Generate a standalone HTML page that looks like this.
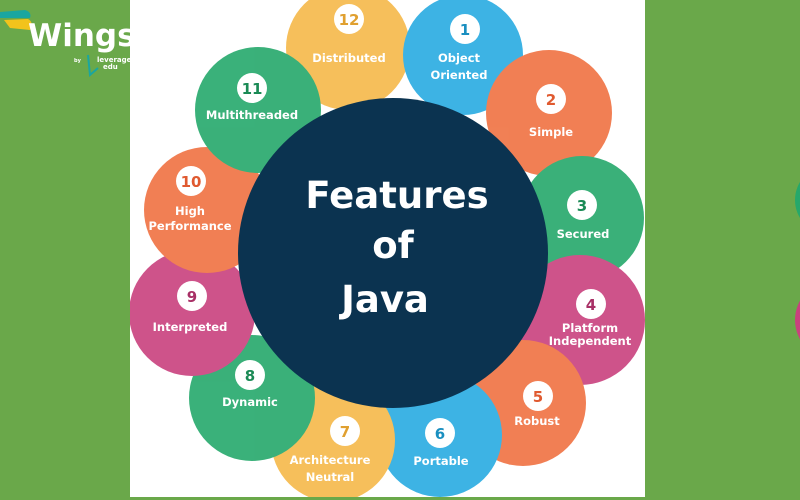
<!DOCTYPE html>
<html><head><meta charset="utf-8"><style>
html,body{margin:0;padding:0;width:800px;height:500px;overflow:hidden;background:#6aa84a}
svg{display:block}
text{font-family:"DejaVu Sans","Liberation Sans",sans-serif;font-weight:bold}
</style></head><body>
<svg width="800" height="500" viewBox="0 0 800 500">
<rect width="800" height="500" fill="#6aa84a"/>
<circle cx="830" cy="200" r="35" fill="#25a86b"/>
<circle cx="835" cy="320" r="40" fill="#c9417e"/>
<rect x="130" y="0" width="515" height="497" fill="#ffffff"/>
<clipPath id="c"><rect x="130" y="0" width="515" height="497"/></clipPath>
<g clip-path="url(#c)">
<g opacity="0.9">
<circle cx="348" cy="48" r="62" fill="#f6b94a"/>
<circle cx="463" cy="55" r="60" fill="#29abe2"/>
<circle cx="549" cy="113" r="63" fill="#f07242"/>
<circle cx="582" cy="218" r="62" fill="#25a86b"/>
<circle cx="580" cy="320" r="65" fill="#c9417e"/>
<circle cx="523" cy="403" r="63" fill="#f07242"/>
<circle cx="440" cy="435" r="62" fill="#29abe2"/>
<circle cx="333" cy="440" r="62" fill="#f6b94a"/>
<circle cx="252" cy="398" r="63" fill="#25a86b"/>
<circle cx="192" cy="313" r="63" fill="#c9417e"/>
<circle cx="207" cy="210" r="63" fill="#f07242"/>
<circle cx="258" cy="110" r="63" fill="#25a86b"/>
</g>
</g>
<circle cx="393" cy="253" r="155" fill="#0b3350"/>
<g font-size="37" fill="#fff" text-anchor="middle">
<text x="397" y="208">Features</text>
<text x="393" y="258">of</text>
<text x="385" y="312">Java</text>
</g>
<g text-anchor="middle" font-size="11.5" fill="#fff">
<circle cx="349" cy="19" r="15" fill="#fff"/><text x="349" y="25" font-size="15" fill="#e0a030">12</text><text x="349" y="62">Distributed</text>
<circle cx="465" cy="29" r="15" fill="#fff"/><text x="465" y="35" font-size="15" fill="#1a8fc0">1</text><text x="459" y="62">Object</text><text x="459" y="79">Oriented</text>
<circle cx="551" cy="99" r="15" fill="#fff"/><text x="551" y="105" font-size="15" fill="#e05a30">2</text><text x="551" y="136">Simple</text>
<circle cx="582" cy="205" r="15" fill="#fff"/><text x="582" y="211" font-size="15" fill="#1a8a55">3</text><text x="583" y="238">Secured</text>
<circle cx="591" cy="304" r="15" fill="#fff"/><text x="591" y="310" font-size="15" fill="#a83066">4</text><text x="590" y="332">Platform</text><text x="590" y="345">Independent</text>
<circle cx="538" cy="396" r="15" fill="#fff"/><text x="538" y="402" font-size="15" fill="#e05a30">5</text><text x="537" y="425">Robust</text>
<circle cx="440" cy="433" r="15" fill="#fff"/><text x="440" y="439" font-size="15" fill="#1a8fc0">6</text><text x="441" y="465">Portable</text>
<circle cx="345" cy="431" r="15" fill="#fff"/><text x="345" y="437" font-size="15" fill="#e0a030">7</text><text x="330" y="464">Architecture</text><text x="330" y="481">Neutral</text>
<circle cx="250" cy="375" r="15" fill="#fff"/><text x="250" y="381" font-size="15" fill="#1a8a55">8</text><text x="250" y="406">Dynamic</text>
<circle cx="192" cy="296" r="15" fill="#fff"/><text x="192" y="302" font-size="15" fill="#a83066">9</text><text x="190" y="331">Interpreted</text>
<circle cx="191" cy="181" r="15" fill="#fff"/><text x="191" y="187" font-size="15" fill="#e05a30">10</text><text x="190" y="215">High</text><text x="190" y="230">Performance</text>
<circle cx="252" cy="88" r="15" fill="#fff"/><text x="252" y="94" font-size="15" fill="#1a8a55">11</text><text x="252" y="119">Multithreaded</text>
</g>
<path d="M0 12 L25 10 Q32 12 30 18 L0 18Z" fill="#1aa6a0"/>
<path d="M4 20 L28 19 Q34 22 30 30 L10 28Z" fill="#f2c31c"/>
<text x="28" y="46" font-size="31" fill="#fff" font-family="Liberation Sans,sans-serif">Wings</text>
<text x="74" y="62" font-size="5" fill="#fff">by</text>
<path d="M88 55 L90 75 L98 68" stroke="#1aa6a0" stroke-width="2" fill="none"/>
<text x="97" y="62" font-size="7" fill="#fff">leverage</text>
<text x="103" y="69" font-size="7" fill="#fff">edu</text>
</svg>
</body></html>
